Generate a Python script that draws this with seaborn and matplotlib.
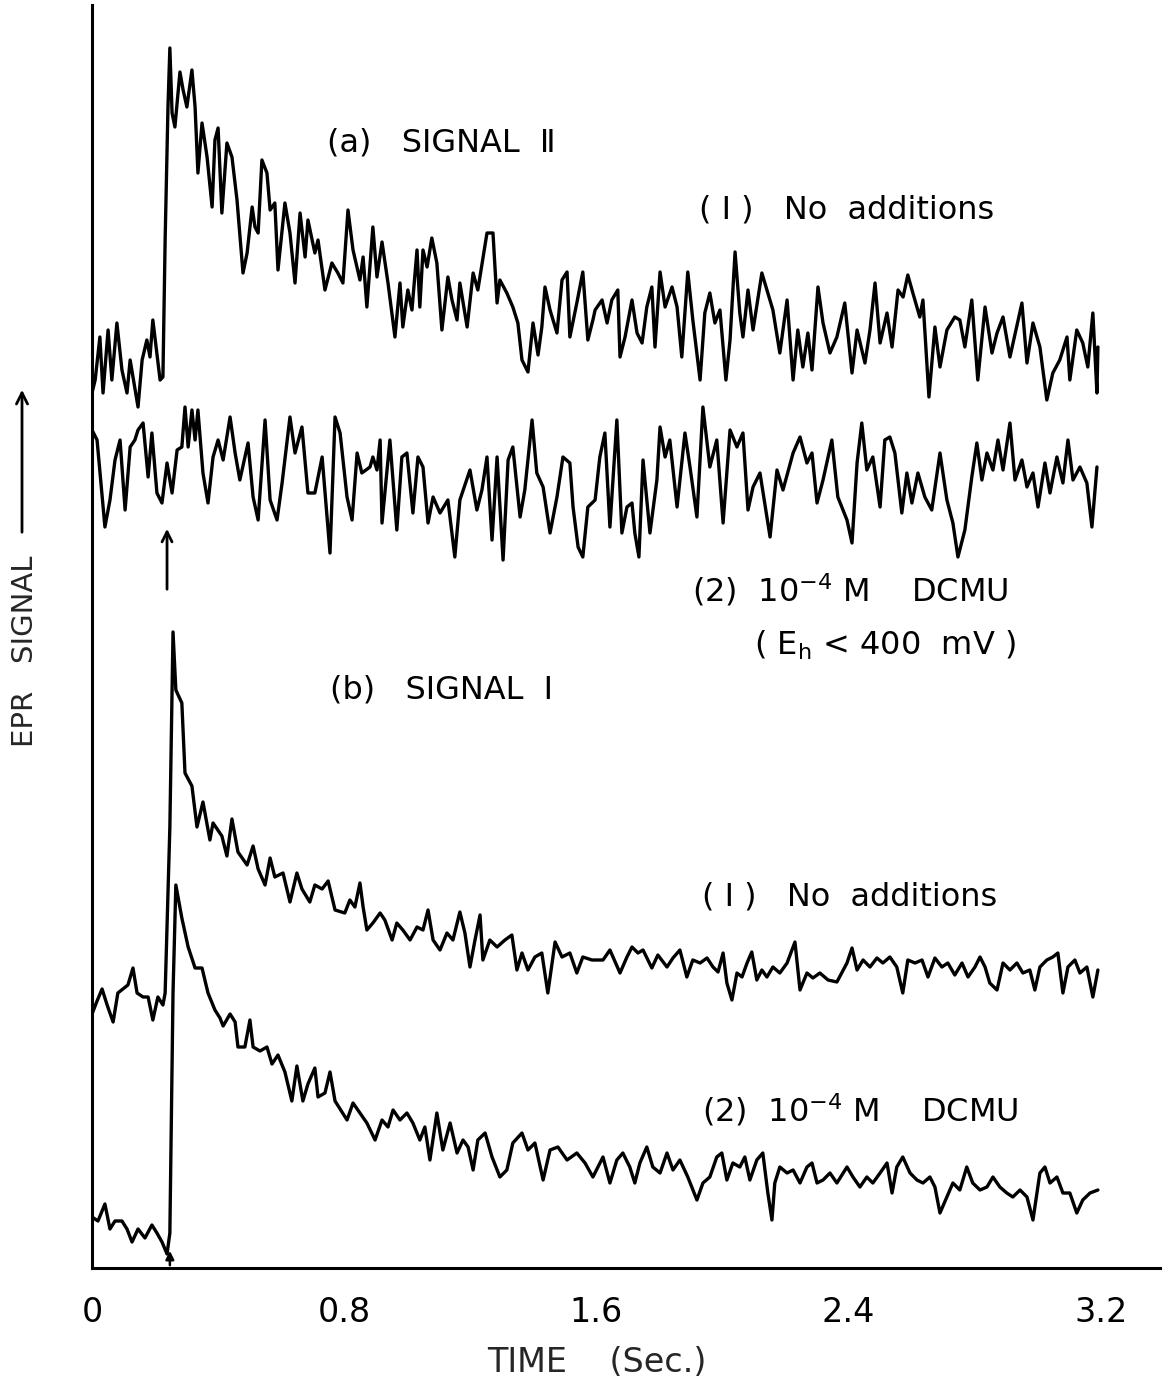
import matplotlib
matplotlib.use("Agg")
import matplotlib.pyplot as plt
import seaborn as sns
import numpy as np
import pandas as pd

# ---------------- data (time in s, EPR signal in arbitrary units) ----------------
a1_t = [0.000, 0.010, 0.025, 0.035, 0.051, 0.063, 0.079, 0.095, 0.111, 0.121, 0.146, 0.159, 0.174, 0.184, 0.193,
        0.216, 0.225, 0.232, 0.241, 0.247, 0.254, 0.263, 0.279, 0.289, 0.301, 0.317, 0.327, 0.336, 0.349, 0.365,
        0.381, 0.390, 0.400, 0.412, 0.428, 0.444, 0.460, 0.479, 0.492, 0.508, 0.517, 0.527, 0.539, 0.555, 0.565,
        0.580, 0.590, 0.612, 0.628, 0.644, 0.660, 0.676, 0.685, 0.707, 0.717, 0.739, 0.761, 0.780, 0.796, 0.812,
        0.828, 0.850, 0.860, 0.872, 0.891, 0.904, 0.920, 0.939, 0.961, 0.977, 0.986, 1.002, 1.015, 1.031, 1.040,
        1.050, 1.063, 1.078, 1.094, 1.110, 1.129, 1.142, 1.158, 1.167, 1.190, 1.209, 1.224, 1.253, 1.272, 1.285,
        1.294, 1.316, 1.335, 1.351, 1.364, 1.383, 1.399, 1.415, 1.427, 1.437, 1.453, 1.475, 1.491, 1.507, 1.516,
        1.538, 1.557, 1.573, 1.589, 1.596, 1.618, 1.634, 1.649, 1.668, 1.675, 1.691, 1.713, 1.729, 1.745, 1.760,
        1.776, 1.786, 1.802, 1.818, 1.840, 1.856, 1.871, 1.890, 1.906, 1.929, 1.944, 1.960, 1.976, 1.992, 2.011,
        2.024, 2.040, 2.055, 2.065, 2.081, 2.097, 2.125, 2.141, 2.160, 2.182, 2.205, 2.224, 2.239, 2.255, 2.271,
        2.284, 2.303, 2.319, 2.341, 2.363, 2.388, 2.411, 2.427, 2.452, 2.468, 2.484, 2.500, 2.522, 2.538, 2.557,
        2.573, 2.588, 2.604, 2.626, 2.636, 2.655, 2.674, 2.690, 2.712, 2.737, 2.753, 2.769, 2.791, 2.810, 2.833,
        2.855, 2.871, 2.890, 2.912, 2.950, 2.966, 2.985, 3.007, 3.029, 3.048, 3.070, 3.093, 3.102, 3.124, 3.143,
        3.159, 3.175, 3.188, 3.191]
a1_s = [875, 888, 931, 875, 938, 888, 945, 898, 875, 908, 861, 908, 928, 911, 948,
        888, 891, 1028, 1161, 1220, 1155, 1141, 1196, 1178, 1161, 1198, 1161, 1095, 1145, 1111,
        1061, 1128, 1140, 1055, 1125, 1111, 1068, 995, 1015, 1061, 1041, 1035, 1108, 1095, 1058,
        1065, 998, 1065, 1035, 985, 1055, 1011, 1048, 1015, 1028, 978, 1005, 995, 985, 1058,
        1018, 988, 1011, 961, 1041, 991, 1026, 985, 931, 985, 941, 978, 958, 1018, 961,
        1018, 1001, 1030, 1005, 938, 991, 968, 948, 985, 941, 995, 978, 1035, 1035, 965,
        988, 975, 961, 945, 908, 896, 945, 913, 941, 981, 958, 935, 988, 996, 931,
        965, 996, 928, 948, 958, 968, 945, 968, 978, 911, 931, 968, 935, 925, 961,
        981, 921, 996, 961, 981, 961, 911, 996, 948, 888, 955, 975, 945, 958, 888,
        928, 1016, 955, 931, 978, 938, 995, 978, 958, 915, 968, 888, 938, 901, 935,
        898, 981, 945, 915, 931, 965, 895, 938, 905, 938, 985, 925, 955, 921, 978,
        971, 993, 975, 951, 968, 871, 941, 901, 938, 951, 948, 921, 968, 888, 961,
        915, 935, 951, 911, 965, 905, 945, 921, 868, 895, 908, 931, 888, 938, 925,
        901, 955, 875, 921]

a2_t = [0.000, 0.016, 0.041, 0.057, 0.073, 0.089, 0.105, 0.121, 0.136, 0.146, 0.162, 0.178, 0.190, 0.206, 0.222,
        0.238, 0.254, 0.270, 0.285, 0.295, 0.305, 0.317, 0.327, 0.336, 0.352, 0.368, 0.384, 0.400, 0.416, 0.438,
        0.454, 0.469, 0.495, 0.511, 0.527, 0.549, 0.565, 0.587, 0.603, 0.628, 0.644, 0.666, 0.685, 0.707, 0.730,
        0.755, 0.771, 0.787, 0.809, 0.825, 0.841, 0.856, 0.882, 0.891, 0.904, 0.914, 0.920, 0.945, 0.967, 0.983,
        0.999, 1.018, 1.034, 1.050, 1.066, 1.082, 1.104, 1.129, 1.151, 1.167, 1.199, 1.221, 1.237, 1.253, 1.269,
        1.285, 1.304, 1.320, 1.335, 1.358, 1.373, 1.396, 1.411, 1.431, 1.453, 1.475, 1.494, 1.516, 1.526, 1.542,
        1.557, 1.573, 1.596, 1.611, 1.627, 1.643, 1.665, 1.681, 1.697, 1.713, 1.722, 1.735, 1.748, 1.770, 1.792,
        1.802, 1.818, 1.833, 1.856, 1.881, 1.897, 1.919, 1.938, 1.960, 1.982, 2.002, 2.024, 2.046, 2.065, 2.081,
        2.097, 2.119, 2.151, 2.173, 2.192, 2.224, 2.246, 2.268, 2.284, 2.300, 2.319, 2.347, 2.366, 2.395, 2.411,
        2.427, 2.442, 2.458, 2.477, 2.500, 2.515, 2.531, 2.547, 2.569, 2.585, 2.601, 2.620, 2.642, 2.664, 2.690,
        2.712, 2.731, 2.747, 2.769, 2.791, 2.807, 2.823, 2.839, 2.858, 2.874, 2.890, 2.912, 2.928, 2.950, 2.966,
        2.985, 3.001, 3.023, 3.039, 3.061, 3.080, 3.096, 3.112, 3.134, 3.156, 3.172, 3.188]
a2_s = [838, 828, 741, 768, 808, 828, 758, 821, 828, 838, 845, 791, 835, 775, 765,
        805, 775, 818, 821, 861, 821, 858, 828, 858, 795, 765, 811, 828, 808, 851,
        815, 788, 825, 771, 748, 848, 768, 748, 785, 851, 815, 841, 775, 775, 811,
        715, 851, 835, 771, 748, 815, 795, 801, 811, 798, 828, 745, 828, 738, 811,
        815, 755, 811, 801, 745, 771, 755, 768, 711, 768, 798, 758, 778, 811, 728,
        811, 708, 808, 821, 751, 778, 848, 795, 781, 735, 771, 811, 805, 761, 721,
        711, 761, 768, 811, 835, 741, 848, 735, 761, 765, 735, 711, 808, 735, 788,
        841, 811, 828, 761, 835, 801, 751, 861, 801, 828, 745, 838, 821, 835, 758,
        781, 795, 731, 798, 778, 815, 831, 805, 815, 765, 788, 828, 771, 748, 725,
        805, 845, 798, 811, 761, 828, 831, 815, 755, 795, 765, 795, 771, 758, 815,
        768, 745, 711, 738, 791, 825, 788, 815, 798, 828, 798, 845, 788, 808, 781,
        795, 761, 805, 775, 811, 785, 828, 788, 801, 785, 741, 801]

b1_t = [0.000, 0.016, 0.032, 0.048, 0.067, 0.082, 0.098, 0.114, 0.130, 0.143, 0.162, 0.178, 0.193, 0.209, 0.225,
        0.232, 0.247, 0.257, 0.266, 0.285, 0.295, 0.317, 0.333, 0.352, 0.374, 0.384, 0.412, 0.428, 0.444, 0.463,
        0.492, 0.511, 0.527, 0.549, 0.565, 0.580, 0.606, 0.628, 0.650, 0.666, 0.691, 0.707, 0.730, 0.749, 0.771,
        0.802, 0.818, 0.834, 0.850, 0.860, 0.872, 0.891, 0.914, 0.929, 0.952, 0.967, 0.986, 1.009, 1.031, 1.050,
        1.066, 1.082, 1.104, 1.126, 1.145, 1.167, 1.183, 1.199, 1.215, 1.231, 1.240, 1.262, 1.285, 1.310, 1.332,
        1.348, 1.364, 1.383, 1.405, 1.427, 1.446, 1.469, 1.491, 1.516, 1.538, 1.557, 1.586, 1.621, 1.643, 1.675,
        1.697, 1.713, 1.732, 1.748, 1.776, 1.795, 1.824, 1.843, 1.865, 1.887, 1.906, 1.929, 1.951, 1.970, 1.986,
        2.002, 2.014, 2.030, 2.046, 2.062, 2.078, 2.093, 2.109, 2.125, 2.141, 2.160, 2.182, 2.205, 2.230, 2.246,
        2.268, 2.287, 2.309, 2.335, 2.363, 2.395, 2.411, 2.427, 2.446, 2.468, 2.490, 2.509, 2.531, 2.553, 2.572,
        2.588, 2.611, 2.633, 2.652, 2.674, 2.696, 2.715, 2.737, 2.760, 2.779, 2.801, 2.817, 2.833, 2.848, 2.871,
        2.890, 2.912, 2.934, 2.953, 2.975, 2.991, 3.007, 3.029, 3.048, 3.064, 3.080, 3.096, 3.118, 3.134, 3.156,
        3.175, 3.191]
b1_s = [254, 267, 279, 263, 246, 275, 279, 283, 300, 275, 271, 271, 248, 271, 263,
        275, 441, 636, 578, 565, 495, 482, 441, 466, 428, 445, 432, 412, 449, 416,
        403, 422, 399, 383, 410, 391, 395, 366, 395, 379, 366, 383, 379, 387, 358,
        355, 368, 361, 385, 361, 338, 345, 355, 348, 328, 345, 338, 328, 341, 338,
        358, 328, 318, 335, 328, 356, 335, 301, 328, 353, 308, 328, 321, 328, 333,
        298, 315, 298, 311, 315, 275, 326, 311, 315, 295, 311, 308, 308, 318, 295,
        311, 321, 315, 318, 300, 313, 301, 310, 318, 291, 308, 305, 310, 301, 296,
        315, 285, 268, 295, 291, 305, 316, 288, 298, 291, 301, 295, 305, 326, 278,
        295, 290, 295, 288, 286, 305, 320, 298, 308, 301, 310, 305, 311, 301, 275,
        308, 305, 308, 291, 310, 301, 305, 293, 305, 291, 301, 311, 301, 285, 278,
        305, 298, 305, 295, 298, 278, 301, 308, 311, 315, 275, 301, 308, 295, 301,
        271, 298]

b2_t = [0.000, 0.019, 0.041, 0.057, 0.073, 0.095, 0.111, 0.127, 0.146, 0.168, 0.190, 0.206, 0.222, 0.238, 0.247,
        0.257, 0.266, 0.285, 0.305, 0.327, 0.349, 0.368, 0.390, 0.406, 0.416, 0.438, 0.454, 0.463, 0.485, 0.501,
        0.511, 0.533, 0.555, 0.571, 0.590, 0.612, 0.634, 0.650, 0.669, 0.685, 0.707, 0.717, 0.739, 0.755, 0.771,
        0.809, 0.828, 0.850, 0.872, 0.898, 0.920, 0.939, 0.955, 0.977, 0.999, 1.018, 1.040, 1.056, 1.072, 1.094,
        1.113, 1.136, 1.158, 1.177, 1.193, 1.209, 1.224, 1.247, 1.269, 1.294, 1.316, 1.335, 1.364, 1.383, 1.405,
        1.431, 1.453, 1.478, 1.507, 1.538, 1.564, 1.589, 1.621, 1.643, 1.665, 1.684, 1.706, 1.722, 1.738, 1.760,
        1.779, 1.802, 1.824, 1.843, 1.865, 1.890, 1.919, 1.938, 1.960, 1.982, 1.998, 2.014, 2.033, 2.055, 2.071,
        2.087, 2.109, 2.128, 2.144, 2.157, 2.166, 2.182, 2.205, 2.224, 2.246, 2.268, 2.284, 2.300, 2.319, 2.341,
        2.363, 2.395, 2.414, 2.436, 2.458, 2.477, 2.500, 2.522, 2.538, 2.553, 2.572, 2.595, 2.617, 2.636, 2.658,
        2.674, 2.690, 2.712, 2.731, 2.753, 2.775, 2.794, 2.817, 2.839, 2.858, 2.880, 2.902, 2.921, 2.944, 2.966,
        2.985, 3.007, 3.023, 3.039, 3.061, 3.080, 3.102, 3.124, 3.143, 3.166, 3.191]
b2_s = [51, 47, 64, 39, 47, 47, 39, 26, 39, 30, 43, 35, 26, 14, 35,
        275, 383, 350, 321, 300, 300, 275, 258, 250, 242, 254, 246, 221, 221, 248,
        221, 217, 221, 204, 213, 196, 167, 202, 167, 184, 200, 171, 175, 196, 167,
        148, 165, 155, 145, 128, 148, 141, 158, 148, 155, 145, 128, 141, 108, 155,
        118, 145, 115, 128, 121, 98, 128, 135, 111, 91, 98, 125, 135, 118, 125,
        88, 118, 121, 108, 115, 105, 91, 111, 85, 108, 115, 101, 85, 105, 121,
        101, 95, 115, 98, 108, 91, 68, 85, 91, 111, 115, 88, 105, 101, 111,
        88, 108, 115, 75, 48, 85, 101, 95, 98, 85, 101, 105, 85, 88, 95,
        85, 101, 91, 81, 91, 85, 95, 105, 75, 101, 111, 95, 88, 85, 91,
        81, 55, 71, 85, 78, 101, 85, 78, 81, 91, 81, 75, 71, 78, 71,
        48, 95, 101, 85, 91, 75, 75, 55, 68, 75, 78]

xtick_values = [0, 0.8, 1.6, 2.4, 3.2]
xtick_labels = ["0", "0.8", "1.6", "2.4", "3.2"]

# ---------------- figure ----------------
sns.set_style("white")
plt.rcParams['font.family'] = ['DejaVu Sans']
plt.rcParams['mathtext.fontset'] = 'dejavusans'

fig = plt.figure(figsize=(11.69, 13.86), dpi=100)
ax = fig.add_axes([92/1169, 118/1386, 1068/1169, 1263/1386])

for t, s in [(a1_t, a1_s), (a2_t, a2_s), (b1_t, b1_s), (b2_t, b2_s)]:
    df = pd.DataFrame({"t": t, "s": s})
    sns.lineplot(data=df, x="t", y="s", ax=ax, color="black", linewidth=2.4,
                 estimator=None, sort=False, legend=False)

ax.set_xlim(0, 3.388)
ax.set_ylim(0, 1263)
ax.set_xlabel("")
ax.set_ylabel("")
ax.set_yticks([])
ax.set_xticks(xtick_values)
ax.set_xticklabels(xtick_labels, fontsize=24)
ax.tick_params(axis="x", direction="in", length=15, width=1.8, pad=20, colors="black")
for side in ["top", "right"]:
    ax.spines[side].set_visible(False)
for side in ["left", "bottom"]:
    ax.spines[side].set_linewidth(2.2)
    ax.spines[side].set_color("black")

# annotations
kw = dict(fontsize=23, color="black", ha="center", va="center")
ax.text(1.107, 1125, "(a)   SIGNAL  Ⅱ", **kw)
ax.text(2.395, 1058, "( I )   No  additions", **kw)
ax.text(2.404, 678, r"(2)  10$^{-4}$ M    DCMU", **kw)
ax.text(2.515, 623, r"( E$_{\mathregular{h}}$ < 400  mV )", **kw)
ax.text(1.110, 578, "(b)   SIGNAL  Ⅰ", **kw)
ax.text(2.404, 371, "( I )   No  additions", **kw)
ax.text(2.436, 158, r"(2)  10$^{-4}$ M    DCMU", **kw)

# flash arrows
ax.annotate("", xy=(0.238, 742), xytext=(0.238, 676),
            arrowprops=dict(arrowstyle="->", lw=2.0, color="black", mutation_scale=18))
ax.annotate("", xy=(0.247, 20), xytext=(0.247, 0),
            arrowprops=dict(arrowstyle="-|>", lw=1.8, color="black", mutation_scale=12))

# axis titles
fig.text(597/1169, 1 - 1362/1386, "TIME    (Sec.)", fontsize=24, ha="center", va="center")
fig.text(25/1169, 1 - 651/1386, "EPR   SIGNAL", fontsize=21, ha="center", va="center", rotation=90)
fig.patches.append(matplotlib.patches.FancyArrowPatch(
    (22/1169, 1 - 535/1386), (22/1169, 1 - 387/1386), transform=fig.transFigure,
    arrowstyle="->", mutation_scale=20, lw=2.0, color="black"))

fig.savefig("out.png", dpi=100, facecolor="white")
